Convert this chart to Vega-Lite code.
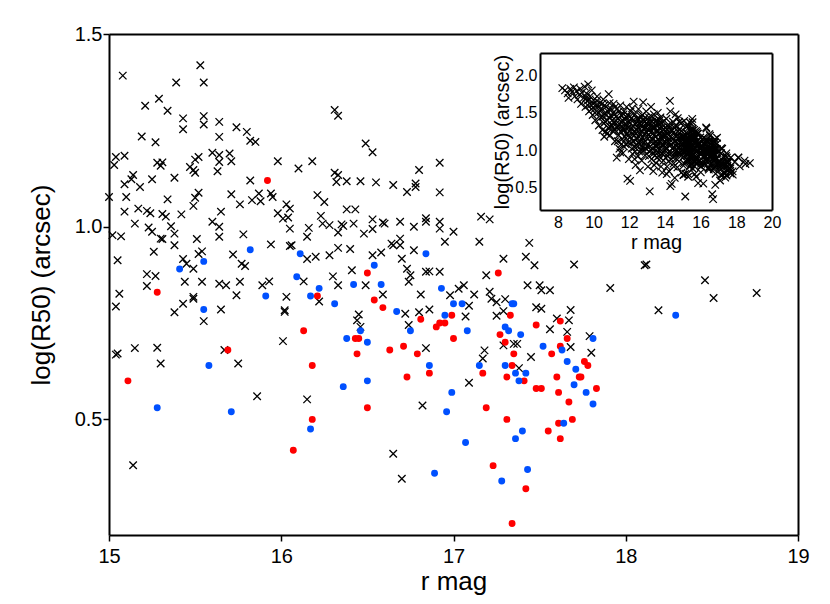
{
"$schema": "https://vega.github.io/schema/vega-lite/v6.json",
"width": 689, "height": 501,
"autosize": "none",
"padding": {"left": 109, "top": 34, "right": 32, "bottom": 69},
"background": "white",
"config": {"view": {"stroke": null}, "font": "Liberation Sans",
  "axis": {"grid": false, "ticks": false, "domainColor": "black", "domainWidth": 2, "tickColor": "black", "tickWidth": 1.5, "labelColor": "black", "titleColor": "black", "labelFont": "Liberation Sans", "titleFont": "Liberation Sans", "titleFontWeight": "normal", "labelFlush": false, "labelOverlap": false}},
"datasets": {
"main": [
{"r":15.53,"v":1.419,"g":"x"},{"r":15.55,"v":1.374,"g":"x"},{"r":15.08,"v":1.392,"g":"x"},{"r":15.39,"v":1.374,"g":"x"},{"r":15.21,"v":1.314,"g":"x"},{"r":15.29,"v":1.332,"g":"x"},{"r":15.34,"v":1.301,"g":"x"},{"r":15.43,"v":1.281,"g":"x"},{"r":15.43,"v":1.253,"g":"x"},{"r":15.55,"v":1.287,"g":"x"},{"r":15.55,"v":1.265,"g":"x"},{"r":15.64,"v":1.272,"g":"x"},{"r":15.64,"v":1.233,"g":"x"},{"r":15.74,"v":1.258,"g":"x"},{"r":15.80,"v":1.246,"g":"x"},{"r":15.82,"v":1.223,"g":"x"},{"r":15.85,"v":1.220,"g":"x"},{"r":15.19,"v":1.234,"g":"x"},{"r":15.27,"v":1.219,"g":"x"},{"r":16.31,"v":1.303,"g":"x"},{"r":16.33,"v":1.288,"g":"x"},{"r":15.04,"v":1.181,"g":"x"},{"r":15.09,"v":1.184,"g":"x"},{"r":15.03,"v":1.160,"g":"x"},{"r":15.28,"v":1.166,"g":"x"},{"r":15.31,"v":1.167,"g":"x"},{"r":15.30,"v":1.158,"g":"x"},{"r":15.47,"v":1.155,"g":"x"},{"r":15.49,"v":1.147,"g":"x"},{"r":15.50,"v":1.174,"g":"x"},{"r":15.50,"v":1.140,"g":"x"},{"r":15.52,"v":1.181,"g":"x"},{"r":15.60,"v":1.192,"g":"x"},{"r":15.64,"v":1.186,"g":"x"},{"r":15.64,"v":1.168,"g":"x"},{"r":15.63,"v":1.144,"g":"x"},{"r":15.70,"v":1.190,"g":"x"},{"r":15.71,"v":1.170,"g":"x"},{"r":15.98,"v":1.170,"g":"x"},{"r":16.10,"v":1.151,"g":"x"},{"r":16.18,"v":1.170,"g":"x"},{"r":16.31,"v":1.140,"g":"x"},{"r":16.33,"v":1.134,"g":"x"},{"r":16.32,"v":1.116,"g":"x"},{"r":15.14,"v":1.134,"g":"x"},{"r":15.13,"v":1.123,"g":"x"},{"r":15.09,"v":1.110,"g":"x"},{"r":15.18,"v":1.103,"g":"x"},{"r":15.25,"v":1.123,"g":"x"},{"r":15.38,"v":1.127,"g":"x"},{"r":15.82,"v":1.120,"g":"x"},{"r":15.00,"v":1.077,"g":"x"},{"r":15.10,"v":1.077,"g":"x"},{"r":15.34,"v":1.071,"g":"x"},{"r":15.52,"v":1.088,"g":"x"},{"r":15.50,"v":1.075,"g":"x"},{"r":15.71,"v":1.084,"g":"x"},{"r":15.76,"v":1.058,"g":"x"},{"r":15.83,"v":1.069,"g":"x"},{"r":15.87,"v":1.086,"g":"x"},{"r":15.88,"v":1.066,"g":"x"},{"r":15.94,"v":1.086,"g":"x"},{"r":15.95,"v":1.077,"g":"x"},{"r":16.21,"v":1.082,"g":"x"},{"r":16.25,"v":1.064,"g":"x"},{"r":15.09,"v":1.039,"g":"x"},{"r":15.17,"v":1.047,"g":"x"},{"r":15.22,"v":1.041,"g":"x"},{"r":15.24,"v":1.035,"g":"x"},{"r":15.31,"v":1.033,"g":"x"},{"r":15.33,"v":1.026,"g":"x"},{"r":15.42,"v":1.032,"g":"x"},{"r":15.49,"v":1.054,"g":"x"},{"r":15.65,"v":1.039,"g":"x"},{"r":15.98,"v":1.035,"g":"x"},{"r":16.03,"v":1.058,"g":"x"},{"r":16.05,"v":1.047,"g":"x"},{"r":16.04,"v":1.024,"g":"x"},{"r":16.01,"v":1.021,"g":"x"},{"r":15.15,"v":1.008,"g":"x"},{"r":15.23,"v":0.998,"g":"x"},{"r":15.25,"v":0.987,"g":"x"},{"r":15.30,"v":0.969,"g":"x"},{"r":15.31,"v":0.968,"g":"x"},{"r":15.36,"v":1.001,"g":"x"},{"r":15.38,"v":0.982,"g":"x"},{"r":15.60,"v":1.013,"g":"x"},{"r":15.64,"v":1.000,"g":"x"},{"r":15.64,"v":0.974,"g":"x"},{"r":15.78,"v":0.980,"g":"x"},{"r":16.05,"v":0.995,"g":"x"},{"r":16.16,"v":0.997,"g":"x"},{"r":16.15,"v":0.974,"g":"x"},{"r":16.23,"v":1.028,"g":"x"},{"r":16.24,"v":1.008,"g":"x"},{"r":16.28,"v":1.004,"g":"x"},{"r":16.33,"v":0.985,"g":"x"},{"r":16.35,"v":1.006,"g":"x"},{"r":15.02,"v":0.978,"g":"x"},{"r":15.07,"v":0.975,"g":"x"},{"r":15.38,"v":0.952,"g":"x"},{"r":15.51,"v":0.968,"g":"x"},{"r":15.54,"v":0.936,"g":"x"},{"r":15.52,"v":0.929,"g":"x"},{"r":15.26,"v":0.935,"g":"x"},{"r":15.43,"v":0.916,"g":"x"},{"r":15.49,"v":0.891,"g":"x"},{"r":15.45,"v":0.904,"g":"x"},{"r":15.72,"v":0.928,"g":"x"},{"r":15.77,"v":0.904,"g":"x"},{"r":15.79,"v":0.898,"g":"x"},{"r":15.94,"v":0.954,"g":"x"},{"r":16.05,"v":0.950,"g":"x"},{"r":16.06,"v":0.952,"g":"x"},{"r":16.15,"v":0.916,"g":"x"},{"r":16.20,"v":0.922,"g":"x"},{"r":16.28,"v":0.926,"g":"x"},{"r":16.33,"v":0.945,"g":"x"},{"r":15.05,"v":0.913,"g":"x"},{"r":15.22,"v":0.877,"g":"x"},{"r":15.27,"v":0.872,"g":"x"},{"r":15.22,"v":0.846,"g":"x"},{"r":15.44,"v":0.857,"g":"x"},{"r":15.54,"v":0.857,"g":"x"},{"r":15.64,"v":0.852,"g":"x"},{"r":15.68,"v":0.848,"g":"x"},{"r":15.76,"v":0.857,"g":"x"},{"r":15.89,"v":0.848,"g":"x"},{"r":15.93,"v":0.858,"g":"x"},{"r":16.03,"v":0.818,"g":"x"},{"r":16.13,"v":0.858,"g":"x"},{"r":16.30,"v":0.871,"g":"x"},{"r":16.33,"v":0.848,"g":"x"},{"r":15.06,"v":0.826,"g":"x"},{"r":15.49,"v":0.818,"g":"x"},{"r":15.74,"v":0.822,"g":"x"},
{"r":16.49,"v":1.216,"g":"x"},{"r":16.53,"v":1.193,"g":"x"},{"r":16.38,"v":1.118,"g":"x"},{"r":16.46,"v":1.118,"g":"x"},{"r":16.55,"v":1.115,"g":"x"},{"r":16.65,"v":1.108,"g":"x"},{"r":16.73,"v":1.090,"g":"x"},{"r":16.78,"v":1.112,"g":"x"},{"r":16.78,"v":1.103,"g":"x"},{"r":16.80,"v":1.147,"g":"x"},{"r":16.92,"v":1.166,"g":"x"},{"r":16.92,"v":1.089,"g":"x"},{"r":16.38,"v":1.045,"g":"x"},{"r":16.43,"v":1.045,"g":"x"},{"r":16.36,"v":1.002,"g":"x"},{"r":16.42,"v":1.008,"g":"x"},{"r":16.53,"v":1.019,"g":"x"},{"r":16.48,"v":0.982,"g":"x"},{"r":16.53,"v":0.994,"g":"x"},{"r":16.59,"v":1.011,"g":"x"},{"r":16.60,"v":1.008,"g":"x"},{"r":16.69,"v":1.013,"g":"x"},{"r":16.77,"v":1.000,"g":"x"},{"r":16.84,"v":1.022,"g":"x"},{"r":16.84,"v":1.013,"g":"x"},{"r":16.92,"v":1.013,"g":"x"},{"r":16.92,"v":0.995,"g":"x"},{"r":16.95,"v":0.961,"g":"x"},{"r":17.00,"v":0.987,"g":"x"},{"r":17.16,"v":1.026,"g":"x"},{"r":17.21,"v":1.019,"g":"x"},{"r":16.40,"v":0.942,"g":"x"},{"r":16.53,"v":0.926,"g":"x"},{"r":16.58,"v":0.933,"g":"x"},{"r":16.64,"v":0.956,"g":"x"},{"r":16.65,"v":0.952,"g":"x"},{"r":16.69,"v":0.969,"g":"x"},{"r":16.69,"v":0.952,"g":"x"},{"r":16.77,"v":0.939,"g":"x"},{"r":16.70,"v":0.917,"g":"x"},{"r":16.73,"v":0.891,"g":"x"},{"r":16.75,"v":0.874,"g":"x"},{"r":16.74,"v":0.857,"g":"x"},{"r":16.84,"v":0.883,"g":"x"},{"r":16.86,"v":0.884,"g":"x"},{"r":16.92,"v":0.883,"g":"x"},{"r":17.19,"v":0.874,"g":"x"},{"r":17.15,"v":0.961,"g":"x"},{"r":17.29,"v":0.917,"g":"x"},{"r":17.44,"v":0.958,"g":"x"},{"r":17.42,"v":0.922,"g":"x"},{"r":17.47,"v":0.900,"g":"x"},{"r":17.70,"v":0.902,"g":"x"},{"r":16.41,"v":0.887,"g":"x"},{"r":16.49,"v":0.848,"g":"x"},{"r":16.59,"v":0.824,"g":"x"},{"r":16.81,"v":0.824,"g":"x"},{"r":16.98,"v":0.822,"g":"x"},{"r":17.06,"v":0.848,"g":"x"},{"r":17.03,"v":0.839,"g":"x"},{"r":17.12,"v":0.824,"g":"x"},{"r":17.21,"v":0.831,"g":"x"},{"r":17.43,"v":0.848,"g":"x"},{"r":17.50,"v":0.848,"g":"x"},{"r":17.51,"v":0.835,"g":"x"},{"r":17.56,"v":0.835,"g":"x"},
{"r":15.04,"v":0.793,"g":"x"},{"r":15.38,"v":0.778,"g":"x"},{"r":15.43,"v":0.800,"g":"x"},{"r":15.49,"v":0.813,"g":"x"},{"r":15.55,"v":0.755,"g":"x"},{"r":15.65,"v":0.785,"g":"x"},{"r":16.02,"v":0.783,"g":"x"},{"r":16.02,"v":0.779,"g":"x"},{"r":16.22,"v":0.806,"g":"x"},{"r":15.04,"v":0.668,"g":"x"},{"r":15.05,"v":0.671,"g":"x"},{"r":15.15,"v":0.685,"g":"x"},{"r":15.28,"v":0.686,"g":"x"},{"r":15.30,"v":0.645,"g":"x"},{"r":15.67,"v":0.680,"g":"x"},{"r":15.75,"v":0.645,"g":"x"},{"r":16.01,"v":0.703,"g":"x"},{"r":15.86,"v":0.560,"g":"x"},{"r":16.15,"v":0.552,"g":"x"},{"r":15.14,"v":0.381,"g":"x"},
{"r":16.45,"v":0.772,"g":"x"},{"r":16.44,"v":0.757,"g":"x"},{"r":16.46,"v":0.740,"g":"x"},{"r":16.72,"v":0.774,"g":"x"},{"r":16.74,"v":0.745,"g":"x"},{"r":16.80,"v":0.778,"g":"x"},{"r":16.86,"v":0.785,"g":"x"},{"r":17.07,"v":0.767,"g":"x"},{"r":17.09,"v":0.795,"g":"x"},{"r":17.25,"v":0.769,"g":"x"},{"r":17.29,"v":0.781,"g":"x"},{"r":17.25,"v":0.804,"g":"x"},{"r":17.30,"v":0.812,"g":"x"},{"r":17.22,"v":0.813,"g":"x"},{"r":17.51,"v":0.787,"g":"x"},{"r":17.48,"v":0.791,"g":"x"},{"r":17.60,"v":0.762,"g":"x"},{"r":17.68,"v":0.784,"g":"x"},{"r":17.67,"v":0.757,"g":"x"},{"r":17.56,"v":0.734,"g":"x"},{"r":17.66,"v":0.727,"g":"x"},{"r":17.29,"v":0.692,"g":"x"},{"r":17.35,"v":0.696,"g":"x"},{"r":17.37,"v":0.696,"g":"x"},{"r":17.68,"v":0.688,"g":"x"},{"r":17.18,"v":0.679,"g":"x"},{"r":17.17,"v":0.658,"g":"x"},{"r":17.45,"v":0.662,"g":"x"},{"r":17.38,"v":0.633,"g":"x"},{"r":16.84,"v":0.685,"g":"x"},{"r":17.09,"v":0.595,"g":"x"},{"r":16.82,"v":0.536,"g":"x"},{"r":16.65,"v":0.411,"g":"x"},{"r":16.70,"v":0.346,"g":"x"},
{"r":17.91,"v":0.841,"g":"x"},{"r":18.11,"v":0.900,"g":"x"},{"r":18.12,"v":0.902,"g":"x"},{"r":18.46,"v":0.861,"g":"x"},{"r":18.51,"v":0.815,"g":"x"},{"r":18.76,"v":0.828,"g":"x"},{"r":18.19,"v":0.783,"g":"x"},{"r":17.79,"v":0.716,"g":"x"},{"r":17.80,"v":0.673,"g":"x"},
{"r":15.92,"v":1.12,"g":"red"},{"r":15.28,"v":0.83,"g":"red"},{"r":16.21,"v":0.82,"g":"red"},{"r":15.11,"v":0.60,"g":"red"},{"r":15.69,"v":0.68,"g":"red"},{"r":16.13,"v":0.73,"g":"red"},{"r":16.18,"v":0.64,"g":"red"},{"r":16.18,"v":0.50,"g":"red"},{"r":16.07,"v":0.42,"g":"red"},{"r":16.54,"v":0.81,"g":"red"},{"r":16.59,"v":0.79,"g":"red"},{"r":16.43,"v":0.71,"g":"red"},{"r":16.45,"v":0.71,"g":"red"},{"r":16.44,"v":0.67,"g":"red"},{"r":16.63,"v":0.68,"g":"red"},{"r":16.71,"v":0.69,"g":"red"},{"r":16.79,"v":0.67,"g":"red"},{"r":16.73,"v":0.61,"g":"red"},{"r":16.50,"v":0.53,"g":"red"},{"r":16.81,"v":0.76,"g":"red"},{"r":16.90,"v":0.74,"g":"red"},{"r":16.92,"v":0.75,"g":"red"},{"r":16.95,"v":0.75,"g":"red"},{"r":16.99,"v":0.77,"g":"red"},{"r":17.00,"v":0.71,"g":"red"},{"r":16.86,"v":0.62,"g":"red"},{"r":17.17,"v":0.62,"g":"red"},{"r":17.19,"v":0.53,"g":"red"},{"r":17.23,"v":0.38,"g":"red"},{"r":17.27,"v":0.72,"g":"red"},{"r":17.30,"v":0.70,"g":"red"},{"r":17.33,"v":0.77,"g":"red"},{"r":17.35,"v":0.67,"g":"red"},{"r":17.34,"v":0.64,"g":"red"},{"r":17.31,"v":0.61,"g":"red"},{"r":17.41,"v":0.60,"g":"red"},{"r":17.31,"v":0.50,"g":"red"},{"r":17.42,"v":0.32,"g":"red"},{"r":17.34,"v":0.23,"g":"red"},{"r":17.48,"v":0.745,"g":"red"},{"r":17.48,"v":0.58,"g":"red"},{"r":17.51,"v":0.58,"g":"red"},{"r":17.57,"v":0.67,"g":"red"},{"r":17.60,"v":0.61,"g":"red"},{"r":17.61,"v":0.57,"g":"red"},{"r":17.67,"v":0.545,"g":"red"},{"r":17.61,"v":0.49,"g":"red"},{"r":17.55,"v":0.47,"g":"red"},{"r":17.62,"v":0.45,"g":"red"},{"r":17.69,"v":0.50,"g":"red"},{"r":17.62,"v":0.755,"g":"red"},{"r":17.66,"v":0.71,"g":"red"},{"r":17.62,"v":0.69,"g":"red"},{"r":17.73,"v":0.61,"g":"red"},{"r":16.50,"v":0.88,"g":"red"},{"r":17.26,"v":0.88,"g":"red"},{"r":17.76,"v":0.65,"g":"red"},{"r":17.78,"v":0.64,"g":"red"},{"r":17.74,"v":0.61,"g":"red"},{"r":17.83,"v":0.58,"g":"red"},
{"r":15.28,"v":0.53,"g":"blue"},{"r":15.41,"v":0.89,"g":"blue"},{"r":15.55,"v":0.91,"g":"blue"},{"r":15.55,"v":0.785,"g":"blue"},{"r":15.58,"v":0.64,"g":"blue"},{"r":15.71,"v":0.52,"g":"blue"},{"r":15.82,"v":0.94,"g":"blue"},{"r":15.91,"v":0.82,"g":"blue"},{"r":16.09,"v":0.87,"g":"blue"},{"r":16.11,"v":0.93,"g":"blue"},{"r":16.17,"v":0.82,"g":"blue"},{"r":16.17,"v":0.475,"g":"blue"},{"r":16.22,"v":0.84,"g":"blue"},{"r":16.31,"v":0.80,"g":"blue"},{"r":16.36,"v":0.585,"g":"blue"},{"r":16.38,"v":0.71,"g":"blue"},{"r":16.42,"v":0.85,"g":"blue"},{"r":16.46,"v":0.73,"g":"blue"},{"r":16.50,"v":0.70,"g":"blue"},{"r":16.50,"v":0.60,"g":"blue"},{"r":16.54,"v":0.90,"g":"blue"},{"r":16.58,"v":0.85,"g":"blue"},{"r":16.67,"v":0.78,"g":"blue"},{"r":16.75,"v":0.73,"g":"blue"},{"r":16.84,"v":0.93,"g":"blue"},{"r":16.86,"v":0.64,"g":"blue"},{"r":16.89,"v":0.36,"g":"blue"},{"r":16.93,"v":0.84,"g":"blue"},{"r":16.95,"v":0.77,"g":"blue"},{"r":16.96,"v":0.52,"g":"blue"},{"r":16.99,"v":0.57,"g":"blue"},{"r":17.00,"v":0.80,"g":"blue"},{"r":17.05,"v":0.80,"g":"blue"},{"r":17.07,"v":0.44,"g":"blue"},{"r":17.08,"v":0.73,"g":"blue"},{"r":17.15,"v":0.64,"g":"blue"},{"r":17.28,"v":0.34,"g":"blue"},{"r":17.30,"v":0.74,"g":"blue"},{"r":17.32,"v":0.73,"g":"blue"},{"r":17.30,"v":0.64,"g":"blue"},{"r":17.34,"v":0.80,"g":"blue"},{"r":17.35,"v":0.80,"g":"blue"},{"r":17.36,"v":0.62,"g":"blue"},{"r":17.36,"v":0.45,"g":"blue"},{"r":17.38,"v":0.60,"g":"blue"},{"r":17.39,"v":0.72,"g":"blue"},{"r":17.40,"v":0.47,"g":"blue"},{"r":17.42,"v":0.62,"g":"blue"},{"r":17.43,"v":0.37,"g":"blue"},{"r":17.52,"v":0.69,"g":"blue"},{"r":17.63,"v":0.68,"g":"blue"},{"r":17.64,"v":0.49,"g":"blue"},{"r":17.66,"v":0.65,"g":"blue"},{"r":17.70,"v":0.59,"g":"blue"},{"r":17.71,"v":0.63,"g":"blue"},{"r":17.77,"v":0.57,"g":"blue"},{"r":17.81,"v":0.71,"g":"blue"},{"r":17.81,"v":0.54,"g":"blue"},{"r":18.29,"v":0.77,"g":"blue"}
],
"bright": [
{"r":8.25,"v":1.83},{"r":8.4,"v":1.80},{"r":8.55,"v":1.76},{"r":8.7,"v":1.82},{"r":8.8,"v":1.78},{"r":8.9,"v":1.84},{"r":8.95,"v":1.72},{"r":8.6,"v":1.70},
{"r":9.05,"v":1.79},{"r":9.1,"v":1.68},{"r":9.2,"v":1.74},{"r":9.25,"v":1.82},{"r":9.3,"v":1.62},{"r":9.35,"v":1.77},{"r":9.45,"v":1.70},{"r":9.5,"v":1.85},{"r":9.55,"v":1.58},{"r":9.6,"v":1.76},{"r":9.65,"v":1.66},{"r":9.7,"v":1.88},{"r":9.75,"v":1.52},{"r":9.8,"v":1.72},{"r":9.85,"v":1.61},{"r":9.9,"v":1.80},{"r":9.95,"v":1.47},
{"r":9.58,"v":1.70},{"r":9.68,"v":1.60},{"r":9.78,"v":1.68},{"r":9.88,"v":1.55},{"r":9.98,"v":1.62},{"r":10.08,"v":1.50},{"r":10.18,"v":1.66},{"r":10.28,"v":1.58},{"r":10.38,"v":1.52},{"r":10.48,"v":1.62},
{"r":10.0,"v":1.67},{"r":10.05,"v":1.55},{"r":10.1,"v":1.40},{"r":10.15,"v":1.60},{"r":10.2,"v":1.72},{"r":10.25,"v":1.50},{"r":10.3,"v":1.33},{"r":10.35,"v":1.63},{"r":10.4,"v":1.44},{"r":10.45,"v":1.56},{"r":10.5,"v":1.27},{"r":10.55,"v":1.68},{"r":10.6,"v":1.49},{"r":10.65,"v":1.38},{"r":10.7,"v":1.58},{"r":10.75,"v":1.22},{"r":10.8,"v":1.52},{"r":10.85,"v":1.75},{"r":10.9,"v":1.43},{"r":10.95,"v":1.31},{"r":10.9,"v":1.63},{"r":10.6,"v":1.18},
{"r":10.52,"v":1.45},{"r":10.58,"v":1.36},{"r":10.62,"v":1.60},{"r":10.68,"v":1.25},{"r":10.72,"v":1.47},{"r":10.78,"v":1.40},{"r":10.82,"v":1.30},{"r":10.88,"v":1.55},{"r":10.92,"v":1.20},{"r":10.98,"v":1.46},
{"r":11.0,"v":1.55},{"r":11.05,"v":1.40},{"r":11.1,"v":1.25},{"r":11.12,"v":1.62},{"r":11.18,"v":1.48},{"r":11.2,"v":1.12},{"r":11.25,"v":1.35},{"r":11.3,"v":0.90},{"r":11.32,"v":1.55},{"r":11.38,"v":1.42},{"r":11.4,"v":1.20},{"r":11.45,"v":1.02},{"r":11.48,"v":1.30},{"r":11.5,"v":1.60},{"r":11.55,"v":1.47},{"r":11.58,"v":1.37},{"r":11.6,"v":1.15},{"r":11.65,"v":0.96},{"r":11.7,"v":1.52},{"r":11.72,"v":1.27},{"r":11.75,"v":1.41},{"r":11.8,"v":1.08},{"r":11.85,"v":1.58},{"r":11.88,"v":1.33},{"r":11.9,"v":0.62},{"r":11.92,"v":1.19},{"r":11.95,"v":1.46},{"r":11.98,"v":0.88},{"r":11.5,"v":0.97},{"r":11.7,"v":1.05},
{"r":11.02,"v":1.33},{"r":11.08,"v":1.50},{"r":11.14,"v":1.38},{"r":11.16,"v":1.28},{"r":11.22,"v":1.58},{"r":11.28,"v":1.45},{"r":11.34,"v":1.30},{"r":11.36,"v":1.12},{"r":11.42,"v":1.52},{"r":11.44,"v":1.35},{"r":11.52,"v":1.25},{"r":11.56,"v":1.08},{"r":11.62,"v":1.40},{"r":11.66,"v":1.30},{"r":11.68,"v":1.48},{"r":11.74,"v":1.18},{"r":11.78,"v":1.35},{"r":11.82,"v":1.45},{"r":11.86,"v":1.22},{"r":11.94,"v":1.30},{"r":11.96,"v":1.10},
{"r":12.0,"v":1.38},{"r":12.02,"v":1.25},{"r":12.05,"v":0.59},{"r":12.08,"v":1.52},{"r":12.1,"v":1.10},{"r":12.15,"v":1.43},{"r":12.18,"v":0.95},{"r":12.2,"v":1.32},{"r":12.25,"v":1.65},{"r":12.28,"v":1.20},{"r":12.3,"v":1.04},{"r":12.33,"v":1.48},{"r":12.36,"v":0.80},{"r":12.4,"v":1.36},{"r":12.42,"v":1.15},{"r":12.45,"v":1.27},{"r":12.5,"v":0.92},{"r":12.52,"v":1.55},{"r":12.55,"v":1.41},{"r":12.6,"v":1.08},{"r":12.62,"v":1.22},{"r":12.65,"v":1.33},{"r":12.7,"v":0.86},{"r":12.72,"v":1.47},{"r":12.75,"v":1.17},{"r":12.78,"v":1.64},{"r":12.8,"v":1.00},{"r":12.82,"v":1.29},{"r":12.85,"v":1.38},{"r":12.88,"v":0.93},{"r":12.9,"v":1.12},{"r":12.95,"v":1.52},{"r":12.97,"v":1.24},{"r":12.6,"v":0.73},{"r":12.3,"v":0.88},{"r":12.9,"v":1.44},
{"r":12.04,"v":1.45},{"r":12.06,"v":1.18},{"r":12.12,"v":1.30},{"r":12.14,"v":1.02},{"r":12.16,"v":1.56},{"r":12.22,"v":1.40},{"r":12.24,"v":1.12},{"r":12.26,"v":1.25},{"r":12.32,"v":1.35},{"r":12.34,"v":0.98},{"r":12.38,"v":1.22},{"r":12.44,"v":1.42},{"r":12.46,"v":1.05},{"r":12.48,"v":1.30},{"r":12.54,"v":1.18},{"r":12.56,"v":0.98},{"r":12.58,"v":1.36},{"r":12.64,"v":1.12},{"r":12.66,"v":1.45},{"r":12.68,"v":1.26},{"r":12.74,"v":1.04},{"r":12.76,"v":1.32},{"r":12.8,"v":1.40},{"r":12.84,"v":1.10},{"r":12.86,"v":1.22},{"r":12.92,"v":1.30},{"r":12.94,"v":1.02},{"r":12.98,"v":1.36},{"r":12.5,"v":1.10},{"r":12.7,"v":1.00},
{"r":13.0,"v":1.05},{"r":13.02,"v":1.35},{"r":13.05,"v":0.78},{"r":13.08,"v":1.20},{"r":13.1,"v":1.44},{"r":13.12,"v":0.98},{"r":13.15,"v":0.45},{"r":13.18,"v":1.28},{"r":13.2,"v":1.12},{"r":13.22,"v":1.58},{"r":13.25,"v":0.88},{"r":13.28,"v":1.38},{"r":13.3,"v":1.02},{"r":13.32,"v":1.22},{"r":13.35,"v":0.72},{"r":13.38,"v":1.48},{"r":13.4,"v":1.10},{"r":13.42,"v":1.31},{"r":13.45,"v":0.93},{"r":13.48,"v":1.18},{"r":13.5,"v":0.83},{"r":13.52,"v":1.40},{"r":13.55,"v":1.05},{"r":13.58,"v":1.26},{"r":13.6,"v":0.97},{"r":13.62,"v":1.14},{"r":13.65,"v":1.35},{"r":13.68,"v":0.87},{"r":13.7,"v":1.22},{"r":13.72,"v":1.02},{"r":13.75,"v":1.44},{"r":13.78,"v":0.78},{"r":13.8,"v":1.16},{"r":13.82,"v":1.30},{"r":13.85,"v":0.95},{"r":13.88,"v":1.08},{"r":13.9,"v":1.38},{"r":13.92,"v":0.86},{"r":13.95,"v":1.20},{"r":13.98,"v":1.00},{"r":13.4,"v":0.80},{"r":13.6,"v":1.50},{"r":13.85,"v":0.70},
{"r":13.03,"v":1.15},{"r":13.06,"v":1.28},{"r":13.1,"v":0.92},{"r":13.14,"v":1.36},{"r":13.16,"v":1.05},{"r":13.2,"v":1.24},{"r":13.24,"v":1.00},{"r":13.26,"v":1.45},{"r":13.3,"v":1.15},{"r":13.34,"v":0.95},{"r":13.36,"v":1.30},{"r":13.4,"v":1.20},{"r":13.44,"v":1.06},{"r":13.46,"v":1.38},{"r":13.5,"v":1.12},{"r":13.54,"v":0.90},{"r":13.56,"v":1.32},{"r":13.6,"v":1.08},{"r":13.64,"v":1.22},{"r":13.66,"v":0.92},{"r":13.7,"v":1.30},{"r":13.74,"v":1.12},{"r":13.76,"v":0.98},{"r":13.8,"v":1.36},{"r":13.84,"v":1.06},{"r":13.86,"v":1.20},{"r":13.9,"v":0.94},{"r":13.94,"v":1.28},{"r":13.96,"v":1.10},{"r":13.5,"v":1.00},{"r":13.3,"v":1.30},{"r":13.7,"v":1.40},
{"r":14.0,"v":1.12},{"r":14.02,"v":1.30},{"r":14.05,"v":0.90},{"r":14.08,"v":1.42},{"r":14.1,"v":1.03},{"r":14.12,"v":0.78},{"r":14.15,"v":1.22},{"r":14.18,"v":0.96},{"r":14.2,"v":1.34},{"r":14.22,"v":0.72},{"r":14.25,"v":1.10},{"r":14.28,"v":1.66},{"r":14.3,"v":0.52},{"r":14.32,"v":1.27},{"r":14.35,"v":0.88},{"r":14.38,"v":0.55},{"r":14.4,"v":1.16},{"r":14.42,"v":1.02},{"r":14.45,"v":1.38},{"r":14.48,"v":0.82},{"r":14.5,"v":1.24},{"r":14.52,"v":0.95},{"r":14.55,"v":0.63},{"r":14.58,"v":1.12},{"r":14.6,"v":1.32},{"r":14.62,"v":0.89},{"r":14.65,"v":1.05},{"r":14.68,"v":1.20},{"r":14.7,"v":0.77},{"r":14.72,"v":1.43},{"r":14.75,"v":0.98},{"r":14.78,"v":1.15},{"r":14.8,"v":0.85},{"r":14.82,"v":1.28},{"r":14.85,"v":1.06},{"r":14.88,"v":0.92},{"r":14.9,"v":1.36},{"r":14.92,"v":0.70},{"r":14.95,"v":1.18},{"r":14.98,"v":1.00},{"r":14.3,"v":1.52},{"r":14.6,"v":1.48},{"r":14.1,"v":0.68},
{"r":14.03,"v":1.20},{"r":14.06,"v":1.02},{"r":14.1,"v":1.28},{"r":14.14,"v":0.92},{"r":14.16,"v":1.12},{"r":14.2,"v":1.20},{"r":14.24,"v":0.98},{"r":14.26,"v":1.30},{"r":14.3,"v":1.06},{"r":14.34,"v":1.18},{"r":14.36,"v":0.96},{"r":14.4,"v":1.26},{"r":14.44,"v":1.10},{"r":14.46,"v":0.90},{"r":14.5,"v":1.04},{"r":14.54,"v":1.30},{"r":14.56,"v":1.12},{"r":14.6,"v":0.98},{"r":14.64,"v":1.18},{"r":14.66,"v":0.94},{"r":14.7,"v":1.10},{"r":14.74,"v":1.25},{"r":14.76,"v":1.04},{"r":14.8,"v":0.96},{"r":14.84,"v":1.18},{"r":14.86,"v":1.10},{"r":14.9,"v":0.98},{"r":14.94,"v":1.26},{"r":14.96,"v":1.08},{"r":14.5,"v":0.78},{"r":14.2,"v":0.85},{"r":14.8,"v":1.38}
]
},
"layer": [
 {
  "layer": [
   {
    "data": {"name": "main"},
    "transform": [{"filter": "datum.g == 'x'"}],
    "mark": {"type": "point", "shape": "M-1,-1L1,1M-1,1L1,-1", "filled": false, "stroke": "black", "strokeWidth": 1.3, "size": 56, "opacity": 1},
    "encoding": {
     "x": {"field": "r", "type": "quantitative", "scale": {"domain": [15, 19], "nice": false, "zero": false},
       "axis": {"orient": "bottom", "values": [15,16,17,18,19], "format": "d", "ticks": true, "tickSize": 6,
         "labelFontSize": 20, "labelPadding": 5, "title": "r mag", "titleFontSize": 26, "titlePadding": 2}},
     "y": {"field": "v", "type": "quantitative", "scale": {"domain": [0.2, 1.5], "nice": false, "zero": false},
       "axis": {"orient": "left", "values": [0.5,1.0,1.5], "format": ".1f", "ticks": true, "tickSize": 6,
         "labelFontSize": 20, "labelPadding": 1, "title": "log(R50) (arcsec)", "titleFontSize": 26, "titlePadding": 20}}
    }
   },
   {
    "data": {"name": "main"},
    "transform": [{"filter": "datum.g == 'red'"}],
    "mark": {"type": "circle", "size": 48, "color": "#ff0000", "opacity": 1},
    "encoding": {
     "x": {"field": "r", "type": "quantitative", "scale": {"domain": [15, 19], "nice": false, "zero": false},
       "axis": {"orient": "top", "values": [15,16,17,18,19], "labels": false, "title": null}},
     "y": {"field": "v", "type": "quantitative", "scale": {"domain": [0.2, 1.5], "nice": false, "zero": false},
       "axis": {"orient": "right", "values": [0.5,1.0,1.5], "labels": false, "title": null}}
    }
   },
   {
    "data": {"name": "main"},
    "transform": [{"filter": "datum.g == 'blue'"}],
    "mark": {"type": "circle", "size": 48, "color": "#0050ff", "opacity": 1},
    "encoding": {
     "x": {"field": "r", "type": "quantitative", "axis": null},
     "y": {"field": "v", "type": "quantitative", "axis": null}
    }
   }
  ],
  "resolve": {"axis": {"x": "independent", "y": "independent"}}
 },
 {
  "layer": [
   {
    "data": {"name": "main"},
    "transform": [{"filter": "datum.g == 'x'"}],
    "mark": {"type": "point", "shape": "M-1,-1L1,1M-1,1L1,-1", "filled": false, "stroke": "black", "strokeWidth": 1.2, "size": 56, "opacity": 1},
    "encoding": {
     "x": {"field": "r", "type": "quantitative", "scale": {"domain": [7, 20], "range": [431, 663], "nice": false, "zero": false},
       "axis": {"orient": "bottom", "offset": -325, "values": [8,10,12,14,16,18,20], "format": "d",
         "labelFontSize": 16, "labelPadding": 4, "title": "r mag", "titleFontSize": 20, "titlePadding": 2}},
     "y": {"field": "v", "type": "quantitative", "scale": {"domain": [0.2, 2.3], "range": [176, 19], "nice": false, "zero": false},
       "axis": {"orient": "left", "offset": -431, "values": [0.5,1.0,1.5,2.0], "format": ".1f",
         "labelFontSize": 16, "labelPadding": 3, "title": "log(R50) (arcsec)", "titleFontSize": 20, "titlePadding": 2}}
    }
   },
   {
    "data": {"name": "bright"},
    "mark": {"type": "point", "shape": "M-1,-1L1,1M-1,1L1,-1", "filled": false, "stroke": "black", "strokeWidth": 1.2, "size": 56, "opacity": 1},
    "encoding": {
     "x": {"field": "r", "type": "quantitative", "scale": {"domain": [7, 20], "range": [431, 663], "nice": false, "zero": false},
       "axis": {"orient": "top", "offset": -19, "values": [8,10,12,14,16,18,20], "labels": false, "title": null}},
     "y": {"field": "v", "type": "quantitative", "scale": {"domain": [0.2, 2.3], "range": [176, 19], "nice": false, "zero": false},
       "axis": {"orient": "right", "offset": -26, "values": [0.5,1.0,1.5,2.0], "labels": false, "title": null}}
    }
   },
   {
    "mark": {"type": "rect", "fillOpacity": 0, "stroke": "#ff0000", "strokeWidth": 2},
    "encoding": {
     "x": {"datum": 15, "type": "quantitative", "axis": null},
     "x2": {"datum": 19},
     "y": {"datum": 0.2, "type": "quantitative", "axis": null},
     "y2": {"datum": 1.5}
    }
   }
  ],
  "resolve": {"axis": {"x": "independent", "y": "independent"}}
 }
],
"resolve": {"scale": {"x": "independent", "y": "independent"}, "axis": {"x": "independent", "y": "independent"}}
}
